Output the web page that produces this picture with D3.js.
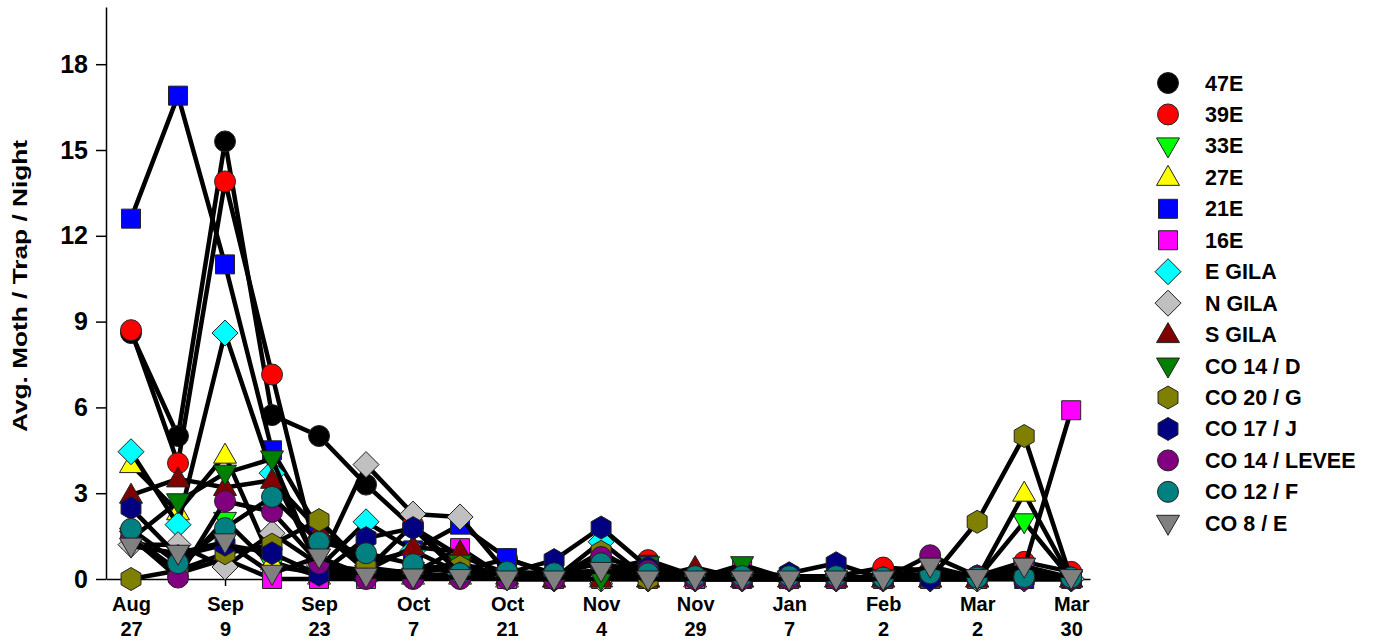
<!DOCTYPE html>
<html><head><meta charset="utf-8">
<script src="https://cdn.jsdelivr.net/npm/d3@7"></script>
<style>body{margin:0;background:#fff}svg{font-family:"Liberation Sans",Arial,sans-serif;font-weight:bold}</style>
</head><body><svg id="c" width="1379" height="642"></svg>
<script>
const dateTop = ["Aug","Sep","Sep","Oct","Oct","Nov","Nov","Jan","Feb","Mar","Mar"];
const dateBottom = ["27","9","23","7","21","4","29","7","2","2","30"];
const yTicks = [0,3,6,9,12,15,18];
const seriesNames = ["47E","39E","33E","27E","21E","16E","E GILA","N GILA","S GILA","CO 14 / D","CO 20 / G","CO 17 / J","CO 14 / LEVEE","CO 12 / F","CO 8 / E"];
const s47E   = [8.6,5.0,15.3,5.73,5.0,3.3,1.8,0.8,0.2,0.1,0.3,0.1,0,0.1,0,0.1,0,0.1,0,0.1,0.1];
const s39E   = [8.7,4.05,13.9,7.15,0.5,0.3,1.9,0.3,0.7,0.2,0.3,0.66,0.1,0.1,0,0.1,0.4,0.3,0.1,0.6,0.25];
const s33E   = [1.5,0.3,2.05,0.45,0.2,0.1,0.1,0.2,0,0,0,0,0,0,0,0,0,0,0,2.0,0];
const s27E   = [4.0,2.35,4.33,0.6,0.1,0.2,0.1,0.1,0,0,0.1,0,0,0,0,0,0,0,0,3.0,0];
const s21E   = [12.6,16.9,11.0,4.5,1.7,0.55,1.0,1.9,0.73,0.1,0.2,0.5,0,0,0,0,0,0,0,0,0];
const s16E   = [1.4,0.2,0.7,0,0,0,0.2,1.08,0,0,0,0,0,0.35,0,0,0,0,0,0.4,5.9];
const sEGila = [4.45,1.9,8.6,3.7,0.4,2.0,1.0,0.2,0.1,0,1.3,0,0,0,0,0,0,0,0,0,0];
const sNGila = [1.2,1.2,0.42,1.6,0.5,4.0,2.27,2.17,0.2,0,0,0,0,0,0,0,0,0,0,0,0];
const sSGila = [2.93,3.5,3.2,3.45,1.7,0.3,1.12,0.95,0.1,0,0,0,0.4,0,0,0,0,0,0,0.3,0];
const sCO14D = [1.4,2.7,3.7,4.2,0.3,0.2,0.3,0.55,0.1,0,0,0.5,0,0.5,0,0,0,0,0,0.1,0];
const sCO20G = [0,0.3,0.9,1.2,2.06,0.4,0.2,0.43,0.1,0,0.95,0,0,0,0,0,0,0,2.0,5.0,0];
const sCO17J = [2.48,0.8,1.2,0.9,0.15,1.43,1.78,0.2,0.2,0.66,1.8,0.4,0,0,0.2,0.55,0,0,0.1,0,0];
const sCO14L = [1.47,0.05,2.72,2.35,0.55,0,0,0,0,0,0.77,0.3,0,0,0,0,0,0.83,0.1,0,0];
const sCO12F = [1.75,0.55,1.78,2.87,1.3,0.9,0.52,0.2,0.25,0.2,0.55,0.2,0.1,0.1,0.1,0.1,0.05,0.2,0.05,0.07,0.05];
const sCO8E  = [1.15,0.9,1.3,0.2,0.77,0.1,0.07,0.05,0,0,0.3,0,0,0,0,0,0,0.45,0.05,0.45,0.05];
const seriesValues = [s47E,s39E,s33E,s27E,s21E,s16E,sEGila,sNGila,sSGila,sCO14D,sCO20G,sCO17J,sCO14L,sCO12F,sCO8E];
const seriesColors = ["#000000","#ff0000","#00ff00","#ffff00","#0000ff","#ff00ff","#00ffff","#c0c0c0","#800000","#008000","#808000","#000080","#800080","#008080","#808080"];
const seriesShapes = ["circle","circle","down","up","square","square","diamond","diamond","up","down","hex","hex","circle","circle","down"];

const FONT = "Liberation Sans, Arial, sans-serif";
const svg = d3.select("#c");
const x = d3.scaleLinear().domain([-0.532, 20.4]).range([106, 1090]);
const y = d3.scaleLinear().domain([0, 20]).range([579, 7]);

function shapePath(shape, cx, cy) {
  const p = d3.path();
  if (shape === "circle") { p.moveTo(cx + 10.5, cy); p.arc(cx, cy, 10.5, 0, 2 * Math.PI); }
  else if (shape === "square") { p.rect(cx - 9.5, cy - 9.5, 19, 19); }
  else if (shape === "up") { p.moveTo(cx, cy - 12); p.lineTo(cx + 11.5, cy + 8); p.lineTo(cx - 11.5, cy + 8); p.closePath(); }
  else if (shape === "down") { p.moveTo(cx, cy + 12); p.lineTo(cx + 11.5, cy - 8); p.lineTo(cx - 11.5, cy - 8); p.closePath(); }
  else if (shape === "diamond") { p.moveTo(cx, cy - 13); p.lineTo(cx + 13, cy); p.lineTo(cx, cy + 13); p.lineTo(cx - 13, cy); p.closePath(); }
  else if (shape === "hex") {
    for (let k = 0; k < 6; k++) {
      const a = -Math.PI / 2 + k * Math.PI / 3;
      const px = cx + 11.5 * Math.cos(a), py = cy + 11.5 * Math.sin(a);
      if (k === 0) p.moveTo(px, py); else p.lineTo(px, py);
    }
    p.closePath();
  }
  return p.toString();
}

// axes
const yAxis = d3.axisLeft(y).tickValues(yTicks).tickSize(10).tickPadding(8).tickSizeOuter(0);
const gy = svg.append("g").attr("transform", "translate(106,0)").call(yAxis);
gy.select(".domain").attr("stroke", "#000").attr("stroke-width", 1.5);
gy.selectAll(".tick line").attr("stroke-width", 1.5);
gy.selectAll(".tick text").attr("font-size", 25).attr("font-weight", "bold").attr("font-family", FONT).attr("fill", "#000");

const xAxis = d3.axisBottom(x).tickValues(d3.range(0, 21, 2)).tickSize(7).tickFormat("").tickSizeOuter(0);
const gx = svg.append("g").attr("transform", "translate(0,579)").call(xAxis);
gx.select(".domain").attr("stroke", "#000").attr("stroke-width", 1.5);
gx.selectAll(".tick line").attr("stroke-width", 1.5);
gx.selectAll(".tick").each(function(d, i) {
  const t = d3.select(this).append("text").attr("fill", "#000").attr("font-size", 20)
    .attr("font-weight", "bold").attr("font-family", FONT).attr("text-anchor", "middle");
  t.append("tspan").attr("x", 0).attr("y", 32).text(dateTop[i]);
  t.append("tspan").attr("x", 0).attr("y", 57).text(dateBottom[i]);
});

svg.append("text").attr("transform", "translate(27,286) rotate(-90)").attr("text-anchor", "middle")
  .attr("font-size", 21).attr("font-weight", "bold")
  .attr("textLength", 292).attr("lengthAdjust", "spacingAndGlyphs")
  .text("Avg. Moth / Trap / Night");

// series
const line = d3.line().x((d, i) => x(i)).y(d => y(d));
seriesValues.forEach((vals, si) => {
  const g = svg.append("g");
  g.append("path").attr("d", line(vals)).attr("fill", "none").attr("stroke", "#000").attr("stroke-width", 4.5).attr("stroke-linejoin", "round");
  g.selectAll("path.m").data(vals).enter().append("path").attr("class", "m")
    .attr("d", (d, i) => shapePath(seriesShapes[si], x(i), y(d)))
    .attr("fill", seriesColors[si]).attr("stroke", "#222").attr("stroke-width", 1);
});

// legend
const leg = svg.append("g");
seriesNames.forEach((n, i) => {
  const cy = 83 + i * 31.45;
  leg.append("path").attr("d", shapePath(seriesShapes[i], 1168, cy)).attr("fill", seriesColors[i]).attr("stroke", "#222").attr("stroke-width", 1);
  leg.append("text").attr("x", 1205).attr("y", cy + 7.5).attr("font-size", 21.5).attr("font-weight", "bold").text(n);
});
</script></body></html>
